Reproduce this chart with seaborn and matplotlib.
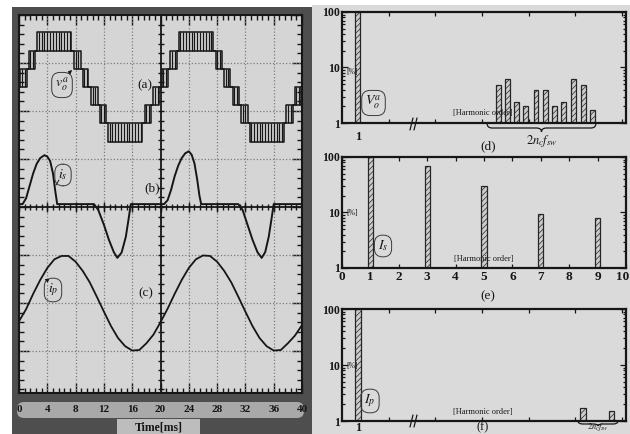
import numpy as np
import matplotlib
matplotlib.use("Agg")
import matplotlib.pyplot as plt
import matplotlib.transforms as mtransforms
import seaborn as sns
from matplotlib.patches import Rectangle, FancyBboxPatch, PathPatch
from matplotlib.path import Path
from matplotlib.ticker import MultipleLocator, NullFormatter

# ---------------- waveform data ----------------
# (a) multilevel output voltage, one 20 ms cycle:
#     segment start [ms], lower level, upper level (PWM band when they differ)
va_start = [0.0, 0.2, 1.1, 1.4, 2.3, 2.6, 7.4, 7.8, 8.7, 9.0, 9.8,
            10.2, 11.1, 11.4, 12.3, 12.6, 17.4, 17.8, 18.7, 19.0, 19.8]
va_low = [0, 0, 1, 1, 2, 2, 2, 1, 1, 0, 0,
          -1, -1, -2, -2, -3, -2, -2, -1, -1, 0]
va_high = [0, 1, 1, 2, 2, 3, 2, 2, 1, 1, 0,
           0, -1, -1, -2, -2, -2, -1, -1, 0, 0]
cycle_starts = [0.0, 20.0]

# (b) source current i_s [div]
is_time = [0, 0.5, 1.0, 1.5, 2.0, 2.5, 3.0, 3.6, 4.0, 4.4, 4.8, 5.1, 5.4,
           10.6, 11.2, 12.0, 12.7, 13.4, 13.9, 14.5, 15.1, 15.5, 15.8,
           20.5, 21.0, 21.5, 22.0, 22.5, 23.0, 23.5, 24.0, 24.4, 24.8, 25.2, 25.5, 25.75,
           31.0, 31.6, 32.3, 33.0, 33.7, 34.3, 34.8, 35.3, 35.7, 36.0, 40.0]
is_value = [0, 0, 0.12, 0.38, 0.64, 0.84, 0.96, 1.02, 0.99, 0.90, 0.64, 0.30, 0,
            0, -0.12, -0.43, -0.74, -1.0, -1.12, -1.01, -0.68, -0.30, 0,
            0, 0.08, 0.30, 0.58, 0.80, 0.96, 1.06, 1.10, 1.03, 0.85, 0.50, 0.18, 0,
            0, -0.12, -0.43, -0.74, -1.0, -1.12, -1.0, -0.68, -0.30, 0, 0]

# (c) primary current i_p [div], one sample per ms
ip_time = list(range(0, 41))
ip_value = [-0.38, -0.13, 0.19, 0.48, 0.73, 0.91, 0.98, 0.98, 0.86, 0.67, 0.43,
            0.13, -0.18, -0.48, -0.73, -0.90, -0.99, -0.98, -0.84, -0.66, -0.40,
            -0.12, 0.19, 0.48, 0.73, 0.91, 0.99, 0.98, 0.86, 0.67, 0.43,
            0.13, -0.18, -0.48, -0.73, -0.90, -0.99, -0.98, -0.84, -0.68, -0.46]

time_ticks = [0, 4, 8, 12, 16, 20, 24, 28, 32, 36, 40]

# ---------------- harmonic spectra [%] ----------------
# (d) output voltage: fundamental plus sideband cluster around 2*nc*fsw (broken axis)
vo_pos = [0.34, 3.35, 3.55, 3.74, 3.94, 4.16, 4.36, 4.56, 4.76, 4.97, 5.17, 5.37]
vo_pct = [100, 4.9, 6.2, 2.4, 2.0, 3.9, 3.9, 2.05, 2.4, 6.2, 4.9, 1.7]
# (e) source current, odd harmonics
is_order = [1, 3, 5, 7, 9]
is_pct = [100, 68, 30, 9.4, 7.9]
# (f) primary current
ip_pos = [0.34, 5.17, 5.78]
ip_pct = [100, 1.73, 1.53]

pct_ticks = [1, 10, 100]
order_ticks = list(range(0, 11))

# ---------------- styling ----------------
sns.set_theme(style="white")
plt.rcParams["font.family"] = ["Liberation Serif", "DejaVu Serif"]
plt.rcParams["mathtext.fontset"] = "stix"
plt.rcParams["hatch.linewidth"] = 0.5

INK = "#161616"
W, H = 630, 434
fig = plt.figure(figsize=(6.3, 4.34), dpi=100)
fig.patch.set_facecolor("white")


def px_axes(x0, y0, x1, y1, z=1):
    a = fig.add_axes([x0 / W, 1 - y1 / H, (x1 - x0) / W, (y1 - y0) / H])
    a.set_zorder(z)
    return a


# background layer in pixel units
bg = px_axes(0, 0, W, H, z=0)
bg.set_xlim(0, W)
bg.set_ylim(H, 0)
bg.axis("off")
bg.add_patch(Rectangle((312, 5), W - 312, H - 5, color="#dadada", lw=0))
bg.add_patch(Rectangle((12, 7), 300, H - 7, color="#4e4e4e", lw=0))
bg.add_patch(FancyBboxPatch((17, 402), 287, 16, boxstyle="round,pad=0,rounding_size=7",
                            fc="#a9a9a9", ec="none"))
bg.add_patch(Rectangle((117, 419), 83, 15, color="#bdbdbd", lw=0))
bg.text(158.5, 427, "Time[ms]", ha="center", va="center", fontsize=8.5,
        fontweight="bold", color=INK)

# ---------------- oscilloscope traces ----------------
ax = px_axes(19, 15, 302, 393, z=2)
ax.set_facecolor("#d5d5d5")
grid_kw = dict(color="#7c7c7c", lw=0.9, ls=(0, (1, 1.6)), zorder=1)
for x in range(4, 40, 4):
    if x != 20:
        ax.axvline(x, **grid_kw)
for y in range(1, 8):
    if y != 4:
        ax.axhline(y, **grid_kw)
ax.axvline(20, color=INK, lw=1.3, zorder=2)
ax.axhline(4, color=INK, lw=1.3, zorder=2)

minor_x = np.arange(0, 40.01, 0.8)
major_x = np.arange(0, 40.01, 4)
minor_y = np.arange(0.2, 8, 0.2)
ax.plot(minor_x, np.full_like(minor_x, 4), ls="none", marker="|", ms=4, mew=1, color=INK)
ax.plot(major_x, np.full_like(major_x, 4), ls="none", marker="|", ms=7, mew=1, color=INK)
ax.plot(np.full_like(minor_y, 20), minor_y, ls="none", marker="_", ms=4, mew=1, color=INK)

VA_ZERO, VA_STEP = 6.5, 0.38
IS_ZERO, IP_ZERO = 4.06, 2.0

for c0 in cycle_starts:
    t = np.array(va_start + [20.0]) + c0
    lo = np.array(va_low + [va_low[-1]])
    hi = np.array(va_high + [va_high[-1]])
    for lev in (lo, hi):
        sns.lineplot(x=t, y=VA_ZERO + VA_STEP * lev, drawstyle="steps-post",
                     estimator=None, sort=False, color=INK, lw=1.1, ax=ax)
    for s, e, l, h in zip(t[:-1], t[1:], lo[:-1], hi[:-1]):
        if h > l:
            xs = np.arange(s + 0.2, e - 0.05, 0.4)
            ax.vlines(xs, VA_ZERO + VA_STEP * l, VA_ZERO + VA_STEP * h, color=INK, lw=0.9)

sns.lineplot(x=is_time, y=IS_ZERO + np.array(is_value), estimator=None, sort=False,
             color=INK, lw=1.4, ax=ax)
sns.lineplot(x=ip_time, y=IP_ZERO + np.array(ip_value), estimator=None, sort=False,
             color=INK, lw=1.3, ax=ax)

ax.set_xlim(0, 40)
ax.set_ylim(0.125, 8)
ax.set_xlabel("")
ax.set_ylabel("")
ax.set_xticks(time_ticks)
ax.set_xticklabels([str(v) for v in time_ticks])
ax.xaxis.set_minor_locator(MultipleLocator(0.8))
ax.yaxis.set_major_locator(MultipleLocator(1))
ax.yaxis.set_minor_locator(MultipleLocator(0.2))
ax.tick_params(which="both", direction="in", top=True, bottom=True, left=True, right=True,
               color=INK, width=1, labelleft=False)
ax.tick_params(which="major", length=7)
ax.tick_params(which="minor", length=3.5)
ax.tick_params(axis="x", pad=9, labelsize=8, labelcolor=INK)
for lab in ax.get_xticklabels():
    lab.set_fontweight("bold")
for sp in ax.spines.values():
    sp.set_color(INK)
    sp.set_linewidth(1.5)


# ---------------- spectra ----------------
def spectrum(box, pos, pct, width, xlim):
    a = px_axes(*box, z=2)
    a.set_facecolor("#dadada")
    a.set_yscale("log")
    sns.barplot(x=pos, y=pct, native_scale=True, width=width, color="#cdcdcd",
                edgecolor="#262626", linewidth=0.9, errorbar=None, ax=a)
    for p in a.patches:
        p.set_hatch("//////")
    a.set_xlim(*xlim)
    a.set_ylim(1, 100)
    a.set_xlabel("")
    a.set_ylabel("")
    a.set_yticks(pct_ticks)
    a.set_yticklabels([str(v) for v in pct_ticks])
    a.yaxis.set_minor_formatter(NullFormatter())
    a.tick_params(which="both", direction="in", top=True, bottom=True, left=True, right=True,
                  color=INK, width=0.9)
    a.tick_params(which="major", length=4)
    a.tick_params(which="minor", length=2)
    a.tick_params(axis="y", pad=1.5, labelsize=8.5, labelcolor=INK)
    for lab in a.get_yticklabels():
        lab.set_fontweight("bold")
    for sp in a.spines.values():
        sp.set_color(INK)
        sp.set_linewidth(1.6)
    return a


ax_d = spectrum((342, 12, 626, 123), vo_pos, vo_pct, 0.56, (0, 6.09))
ax_e = spectrum((342, 157, 626, 268), is_order, is_pct, 0.095, (0, 10))
ax_f = spectrum((342, 309, 626, 421), ip_pos, ip_pct, 0.19, (0, 6.09))

for a, pad in ((ax_d, 6), (ax_f, 1.0)):
    a.set_xticks([vo_pos[0]])
    a.set_xticklabels(["1"])
    a.set_xticks(range(1, 7), minor=True)
    a.xaxis.set_minor_formatter(NullFormatter())
    a.tick_params(axis="x", which="major", length=0, pad=pad, labelsize=9, labelcolor=INK)
    a.tick_params(axis="x", which="minor", length=3)

ax_e.set_xticks(order_ticks)
ax_e.set_xticklabels([str(v) for v in order_ticks])
ax_e.tick_params(axis="x", which="major", length=3, pad=2.5, labelsize=9.5, labelcolor=INK)
for a in (ax_d, ax_e, ax_f):
    for lab in a.get_xticklabels():
        lab.set_fontweight("bold")
# the last order label sits against the right edge of the figure
last = ax_e.get_xticklabels()[-1]
last.set_transform(last.get_transform() +
                   mtransforms.ScaledTranslation(-3 / 100, 0, fig.dpi_scale_trans))

# ---------------- annotation layer (pixel units) ----------------
ov = px_axes(0, 0, W, H, z=5)
ov.set_xlim(0, W)
ov.set_ylim(H, 0)
ov.axis("off")
ov.patch.set_alpha(0)

box_kw = dict(boxstyle="round,pad=0.25,rounding_size=0.6", fc="none", ec="#3a3a3a", lw=0.7)
ov.text(62, 85, r"$v_o^a$", fontsize=10, ha="center", va="center", color=INK, bbox=box_kw)
ov.annotate("", xy=(74, 68), xytext=(67, 75),
            arrowprops=dict(arrowstyle="-|>", color=INK, lw=0.7, mutation_scale=5))
ov.text(63, 175, r"$i_s$", fontsize=10, ha="center", va="center", color=INK, bbox=box_kw)
ov.plot([59, 56], [180, 185], color=INK, lw=0.7)
ov.text(53, 290, r"$i_p$", fontsize=10, ha="center", va="center", color=INK, bbox=box_kw)
ov.annotate("", xy=(42, 278), xytext=(49, 281),
            arrowprops=dict(arrowstyle="-|>", color=INK, lw=0.7, mutation_scale=5))
for s, (x, y) in zip(["(a)", "(b)", "(c)"], [(145, 85), (152, 188), (146, 293)]):
    ov.text(x, y, s, fontsize=9.5, ha="center", va="center", color=INK)

# spectra labels
ov.text(373.5, 103, r"$V_o^a$", fontsize=10, ha="center", va="center", color=INK, bbox=box_kw)
ov.text(383, 246, r"$I_s$", fontsize=10, ha="center", va="center", color=INK, bbox=box_kw)
ov.text(370, 401, r"$I_p$", fontsize=10, ha="center", va="center", color=INK, bbox=box_kw)
for y in (72, 213, 366):
    ov.text(352, y, "[%]", fontsize=5.5, ha="center", va="center", color=INK)
for x, y in ((483, 113), (484, 259), (483, 412)):
    ov.text(x, y, "[Harmonic order]", fontsize=6, ha="center", va="center", color=INK)
for s, (x, y) in zip(["(d)", "(e)"], [(488, 146), (488, 296)]):
    ov.text(x, y, s, fontsize=9.5, ha="center", va="center", color=INK)
ov.text(483, 433, "(f)", fontsize=9, ha="center", va="bottom", color=INK)

# axis breaks
for yb in (124, 421):
    for dx in (0, 4):
        ov.plot([410 + dx, 413 + dx], [yb + 6, yb - 6], color=INK, lw=0.9)


def brace(x0, x1, yt, yb, tip):
    xm, r = (x0 + x1) / 2, 5
    verts = [(x0, yt), (x0, yb), (x0 + r, yb), (xm - r, yb), (xm, yb), (xm, tip),
             (xm, yb), (xm + r, yb), (x1 - r, yb), (x1, yb), (x1, yt)]
    codes = [Path.MOVETO, Path.CURVE3, Path.CURVE3, Path.LINETO, Path.CURVE3, Path.CURVE3,
             Path.CURVE3, Path.CURVE3, Path.LINETO, Path.CURVE3, Path.CURVE3]
    ov.add_patch(PathPatch(Path(verts, codes), fc="none", ec=INK, lw=0.9))


brace(487, 596, 123, 128, 132)
ov.text(541.5, 133, r"$2n_cf_{sw}$", fontsize=9, ha="center", va="top", color=INK)
brace(578, 618, 421, 424, 426)
ov.text(598, 433, r"$2n_cf_{sw}$", fontsize=6, ha="center", va="bottom", color=INK)

fig.savefig("out.png", dpi=100)
